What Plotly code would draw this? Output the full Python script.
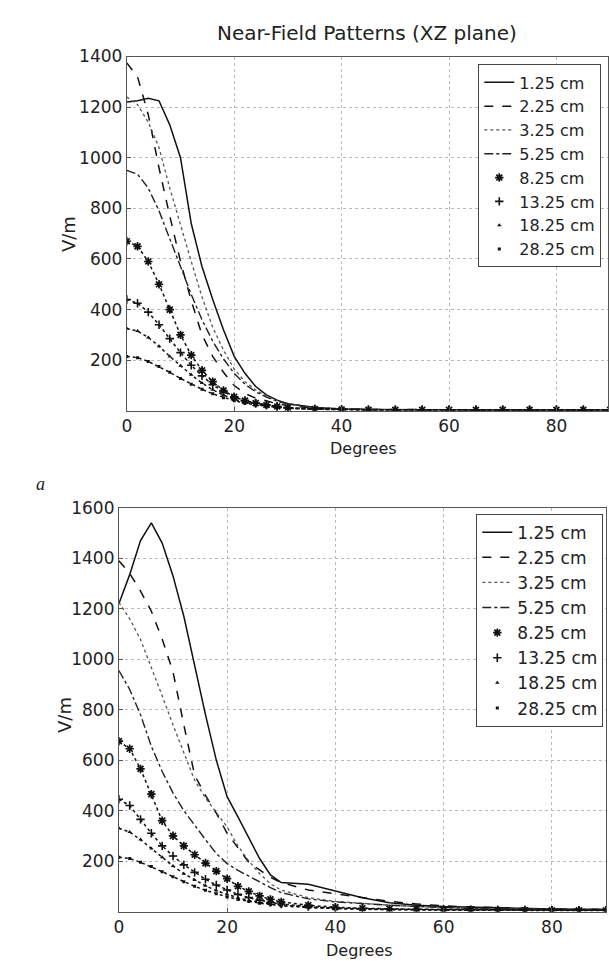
import plotly.graph_objects as go

W, H = 609, 961

# ---------------- data ----------------
degrees = [0, 2, 4, 6, 8, 10, 12, 14, 16, 18, 20, 22, 24, 26, 28, 30,
           35, 40, 45, 50, 55, 60, 65, 70, 75, 80, 85, 90]

labels = ["1.25 cm", "2.25 cm", "3.25 cm", "5.25 cm",
          "8.25 cm", "13.25 cm", "18.25 cm", "28.25 cm"]

# (a) Near-field patterns, XZ plane
a_125 = [1220, 1225, 1235, 1225, 1130, 1000, 740, 570, 440, 320, 215, 148, 96, 63, 42, 28, 13, 7, 5, 4, 4, 3, 3, 3, 3, 3, 3, 3]
a_225 = [1375, 1320, 1170, 960, 770, 590, 435, 300, 215, 152, 100, 68, 50, 38, 28, 20, 10, 6, 5, 4, 4, 3, 3, 3, 3, 3, 3, 3]
a_325 = [1240, 1210, 1140, 1040, 880, 730, 590, 450, 330, 240, 165, 115, 82, 58, 40, 28, 13, 7, 5, 4, 4, 3, 3, 3, 3, 3, 3, 3]
a_525 = [950, 935, 880, 790, 680, 570, 460, 360, 275, 205, 148, 105, 75, 54, 38, 27, 13, 7, 5, 4, 4, 3, 3, 3, 3, 3, 3, 3]
a_825 = [670, 650, 590, 500, 400, 300, 220, 160, 115, 80, 55, 40, 30, 23, 17, 12, 7, 5, 4, 4, 4, 4, 4, 4, 4, 4, 4, 4]
a_1325 = [440, 425, 390, 340, 285, 230, 180, 138, 103, 75, 55, 40, 30, 23, 17, 12, 7, 5, 4, 4, 4, 4, 4, 4, 4, 4, 4, 4]
a_1825 = [325, 315, 290, 255, 215, 178, 142, 110, 83, 62, 45, 33, 25, 19, 14, 10, 6, 4, 4, 4, 4, 4, 4, 4, 4, 4, 4, 4]
a_2825 = [215, 210, 195, 175, 152, 128, 105, 85, 67, 52, 40, 30, 23, 18, 13, 10, 6, 4, 4, 4, 4, 4, 4, 4, 4, 4, 4, 4]

# (b) second panel
b_125 = [1220, 1335, 1470, 1540, 1460, 1330, 1170, 975, 780, 600, 455, 375, 295, 210, 145, 115, 108, 80, 55, 35, 25, 20, 17, 14, 12, 10, 9, 8]
b_225 = [1390, 1340, 1270, 1190, 1080, 950, 740, 540, 460, 390, 310, 250, 195, 165, 135, 115, 85, 70, 55, 40, 30, 22, 18, 14, 12, 10, 9, 8]
b_325 = [1225, 1160, 1078, 970, 855, 740, 630, 520, 450, 390, 335, 260, 200, 150, 110, 85, 55, 40, 32, 25, 20, 15, 12, 10, 9, 8, 8, 8]
b_525 = [955, 880, 780, 655, 555, 470, 400, 340, 285, 230, 190, 163, 140, 118, 95, 75, 50, 38, 30, 25, 20, 15, 12, 10, 9, 8, 8, 8]
b_825 = [675, 645, 565, 465, 360, 300, 260, 225, 192, 160, 130, 100, 80, 62, 48, 38, 25, 17, 13, 10, 9, 8, 7, 6, 6, 5, 5, 5]
b_1325 = [445, 420, 365, 310, 260, 220, 185, 155, 128, 105, 85, 68, 55, 45, 36, 30, 20, 14, 11, 9, 8, 7, 6, 6, 5, 5, 5, 5]
b_1825 = [330, 315, 285, 250, 215, 180, 150, 125, 102, 83, 67, 54, 44, 36, 30, 25, 17, 12, 10, 8, 7, 6, 5, 5, 4, 4, 4, 4]
b_2825 = [215, 210, 195, 178, 158, 138, 118, 100, 84, 70, 58, 48, 40, 33, 28, 23, 15, 11, 9, 7, 6, 5, 5, 4, 4, 4, 4, 4]

x_ticks = [0, 20, 40, 60, 80]
y_ticks_a = [200, 400, 600, 800, 1000, 1200, 1400]
y_ticks_b = [200, 400, 600, 800, 1000, 1200, 1400, 1600]

# ---------------- styles ----------------
FONT = "DejaVu Sans, Verdana, sans-serif"
TXT = "#222"
line_styles = [
    dict(dash="solid", width=1.5, color="#111"),
    dict(dash="dash", width=1.5, color="#111"),
    dict(dash="dot", width=1.3, color="#555"),
    dict(dash="dashdot", width=1.4, color="#222"),
]
marker_styles = [
    dict(symbol="asterisk-open", size=7, line=dict(width=1.7, color="#111"), color="#111"),
    dict(symbol="cross-thin-open", size=6, line=dict(width=1.6, color="#111"), color="#111"),
    dict(symbol="triangle-up", size=4, color="#111"),
    dict(symbol="square", size=3, color="#111"),
]

fig = go.Figure()

def add_panel(series, xa, ya, legend):
    for i, (name, ys) in enumerate(zip(labels, series)):
        if i < 4:
            fig.add_trace(go.Scatter(x=degrees, y=ys, mode="lines", name=name,
                                     line=line_styles[i], xaxis=xa, yaxis=ya,
                                     legend=legend))
        else:
            fig.add_trace(go.Scatter(x=degrees, y=ys, mode="lines", showlegend=False,
                                     line=dict(dash="dot", width=1.5, color="#111"),
                                     xaxis=xa, yaxis=ya, hoverinfo="skip"))
            fig.add_trace(go.Scatter(x=degrees, y=ys, mode="markers", name=name,
                                     marker=marker_styles[i - 4], xaxis=xa, yaxis=ya,
                                     legend=legend))

add_panel([a_125, a_225, a_325, a_525, a_825, a_1325, a_1825, a_2825], "x", "y", "legend")
add_panel([b_125, b_225, b_325, b_525, b_825, b_1325, b_1825, b_2825], "x2", "y2", "legend2")

def px_x(p):
    return p / W

def px_y(p):
    return 1 - p / H

axis_common = dict(showgrid=True, gridcolor="#bbb", griddash="dot", gridwidth=1,
                   showline=True, linecolor="#555", linewidth=1, mirror=True,
                   ticks="inside", ticklen=4, tickcolor="#555",
                   tickfont=dict(family=FONT, size=17, color=TXT), zeroline=False)

legend_common = dict(bgcolor="white", bordercolor="#444", borderwidth=1,
                     xanchor="left", yanchor="top", tracegroupgap=0)

def ann(text, x, y, size=14, angle=0, family=FONT):
    return dict(text=text, x=px_x(x), y=px_y(y), xref="paper", yref="paper",
                xanchor="center", yanchor="middle", showarrow=False, textangle=angle,
                font=dict(family=family, size=size, color=TXT))

fig.update_layout(
    width=W, height=H,
    margin=dict(l=0, r=0, t=0, b=0),
    paper_bgcolor="white", plot_bgcolor="white",
    showlegend=True,
    xaxis=dict(domain=[px_x(123), 1.0], range=[0, 89.6], tickvals=x_ticks,
               anchor="y", **axis_common),
    yaxis=dict(domain=[px_y(405), px_y(47)], range=[0, 1400], tickvals=y_ticks_a,
               anchor="x", **axis_common),
    xaxis2=dict(domain=[px_x(115), px_x(607)], range=[0, 90], tickvals=x_ticks,
                anchor="y2", **axis_common),
    yaxis2=dict(domain=[px_y(911), px_y(503)], range=[0, 1600], tickvals=y_ticks_b,
                anchor="x2", **axis_common),
    legend=dict(x=px_x(478), y=px_y(55), font=dict(family=FONT, size=16, color=TXT),
                **legend_common),
    legend2=dict(x=px_x(476), y=px_y(509), font=dict(family=FONT, size=17, color=TXT),
                 **legend_common),
    annotations=[
        ann("Near-Field Patterns (XZ plane)", 366, 23, size=20),
        ann("Degrees", 362, 443, size=16),
        ann("Degrees", 358, 950, size=16),
        ann("V/m", 64, 226, size=18, angle=-90),
        ann("V/m", 60, 712, size=18, angle=-90),
        ann("<i>a</i>", 36, 479, size=18, family="Liberation Serif, serif"),
    ],
)

fig.write_html("out.html",
               config={"displayModeBar": False},
               post_script="document.body.style.margin='0';"
                           "document.documentElement.style.overflow='hidden';")
